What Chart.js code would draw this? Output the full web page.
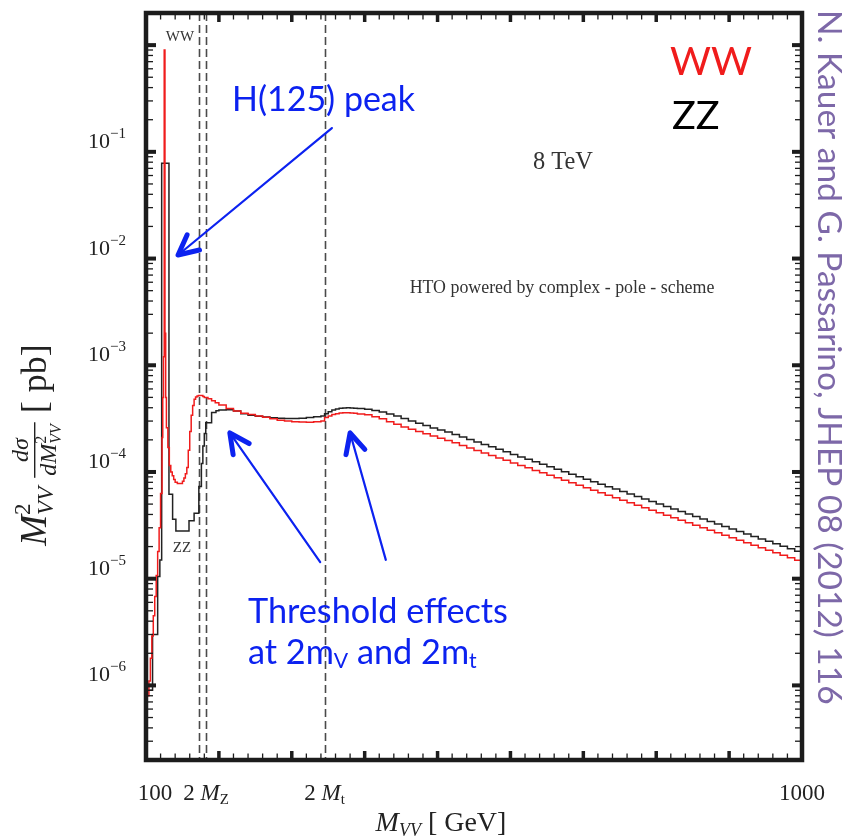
<!DOCTYPE html>
<html>
<head>
<meta charset="utf-8">
<script src="https://cdn.jsdelivr.net/npm/chart.js@4.4.1/dist/chart.umd.min.js"></script>
<style>
  html, body { margin: 0; padding: 0; background: #fff; }
</style>
</head>
<body>
<canvas id="myChart" width="850" height="836"></canvas>
<script>
// M_VV^2 dsigma/dM_VV^2 [pb], histogram bins (low edge in GeV)

// WW (red)
const massWW = [
  100, 104, 106, 108, 110, 112, 114, 116, 118, 120,
  122, 123, 124, 125, 126, 127, 128, 130, 132, 134,
  136, 138, 140, 143, 150, 152, 154, 156, 158, 160,
  162, 164, 166, 168, 170, 172, 178, 180, 185, 190,
  195, 200, 210, 220, 230, 240, 250, 260, 270, 280,
  290, 300, 310, 320, 330, 340, 345, 350, 355, 360,
  365, 370, 375, 380, 385, 390,
  400, 410, 420, 430, 440, 450, 460, 470, 480, 490,
  500, 510, 520, 530, 540, 550, 560, 570, 580, 590,
  600, 610, 620, 630, 640, 650, 660, 670, 680, 690,
  700, 710, 720, 730, 740, 750, 760, 770, 780, 790,
  800, 810, 820, 830, 840, 850, 860, 870, 880, 890,
  900, 910, 920, 930, 940, 950, 960, 970, 980, 990
];
const xsecWW = [
  8e-7, 1.1e-6, 1.8e-6, 2.9e-6, 4.5e-6, 6.8e-6, 1.07e-5, 1.8e-5, 3.0e-5, 6.3e-5,
  2.1e-4, 5.0e-4, 1.2e-3, 0.9, 2.0e-3, 5.0e-4, 2.6e-4, 1.7e-4, 1.15e-4, 1.0e-4,
  9.2e-5, 8.5e-5, 8.0e-5, 7.8e-5, 8.2e-5, 8.8e-5, 9.6e-5, 1.1e-4, 1.6e-4, 2.4e-4,
  3.4e-4, 4.2e-4, 4.8e-4, 5.05e-4, 5.15e-4, 5.2e-4, 5.1e-4, 5.0e-4, 4.85e-4, 4.65e-4,
  4.45e-4, 4.25e-4, 3.93e-4, 3.72e-4, 3.55e-4, 3.45e-4, 3.35e-4, 3.26e-4, 3.16e-4, 3.05e-4,
  3.0e-4, 2.96e-4, 2.94e-4, 2.93e-4, 2.95e-4, 3.0e-4, 3.24e-4, 3.35e-4, 3.45e-4, 3.52e-4,
  3.57e-4, 3.59e-4, 3.59e-4, 3.57e-4, 3.55e-4, 3.5e-4,
  3.44e-4, 3.30e-4, 3.15e-4, 2.96e-4, 2.80e-4, 2.64e-4, 2.51e-4, 2.40e-4, 2.28e-4, 2.17e-4,
  2.07e-4, 1.97e-4, 1.875e-4, 1.775e-4, 1.68e-4, 1.59e-4, 1.51e-4, 1.43e-4, 1.355e-4, 1.285e-4,
  1.216e-4, 1.153e-4, 1.093e-4, 1.035e-4, 9.82e-5, 9.30e-5, 8.81e-5, 8.35e-5, 7.91e-5, 7.50e-5,
  7.10e-5, 6.73e-5, 6.38e-5, 6.04e-5, 5.73e-5, 5.42e-5, 5.14e-5, 4.87e-5, 4.61e-5, 4.37e-5,
  4.14e-5, 3.93e-5, 3.72e-5, 3.52e-5, 3.34e-5, 3.16e-5, 3.00e-5, 2.84e-5, 2.69e-5, 2.55e-5,
  2.42e-5, 2.29e-5, 2.17e-5, 2.06e-5, 1.95e-5, 1.85e-5, 1.75e-5, 1.66e-5, 1.57e-5, 1.49e-5
];

// ZZ (black)
const massZZ = [
  100, 109, 116, 119, 121.5, 131.5, 136.5, 141, 159, 166,
  172.5, 176, 178, 180, 182, 190, 196,
  200, 210, 220, 230, 240, 250, 260, 270, 280, 290,
  300, 310, 320, 330, 340, 345, 350, 355, 360, 365,
  370, 375, 380, 385, 390,
  400, 410, 420, 430, 440, 450, 460, 470, 480, 490,
  500, 510, 520, 530, 540, 550, 560, 570, 580, 590,
  600, 610, 620, 630, 640, 650, 660, 670, 680, 690,
  700, 710, 720, 730, 740, 750, 760, 770, 780, 790,
  800, 810, 820, 830, 840, 850, 860, 870, 880, 890,
  900, 910, 920, 930, 940, 950, 960, 970, 980, 990
];
const xsecZZ = [
  9e-7, 3.0e-6, 1.05e-5, 1.5e-5, 0.078, 6.2e-5, 3.6e-5, 2.8e-5, 3.5e-5, 4.1e-5,
  7.3e-5, 1.2e-4, 1.75e-4, 2.3e-4, 2.9e-4, 3.6e-4, 3.75e-4,
  3.80e-4, 3.82e-4, 3.72e-4, 3.51e-4, 3.40e-4, 3.33e-4, 3.27e-4, 3.22e-4, 3.18e-4, 3.17e-4,
  3.17e-4, 3.18e-4, 3.24e-4, 3.30e-4, 3.35e-4, 3.51e-4, 3.67e-4, 3.80e-4, 3.89e-4, 3.95e-4,
  3.98e-4, 3.99e-4, 3.98e-4, 3.96e-4, 3.94e-4,
  3.88e-4, 3.77e-4, 3.64e-4, 3.50e-4, 3.34e-4, 3.17e-4, 3.01e-4, 2.86e-4, 2.72e-4, 2.59e-4,
  2.48e-4, 2.37e-4, 2.25e-4, 2.13e-4, 2.02e-4, 1.91e-4, 1.81e-4, 1.72e-4, 1.63e-4, 1.545e-4,
  1.46e-4, 1.385e-4, 1.315e-4, 1.245e-4, 1.18e-4, 1.12e-4, 1.06e-4, 1.005e-4, 9.53e-5, 9.03e-5,
  8.56e-5, 8.11e-5, 7.69e-5, 7.29e-5, 6.91e-5, 6.55e-5, 6.21e-5, 5.88e-5, 5.57e-5, 5.28e-5,
  5.00e-5, 4.74e-5, 4.50e-5, 4.26e-5, 4.04e-5, 3.83e-5, 3.63e-5, 3.44e-5, 3.26e-5, 3.09e-5,
  2.92e-5, 2.77e-5, 2.63e-5, 2.49e-5, 2.36e-5, 2.24e-5, 2.12e-5, 2.01e-5, 1.91e-5, 1.81e-5
];

// axes
const massMin = 100, massMax = 1000;
const xsecMin = 2e-7, xsecMax = 2;
const thresholds = [173, 182.4, 345];        // dashed lines
const xTickMass = [100, 182.4, 345, 1000];   // labelled x ticks
const yLabelPow = [-6, -5, -4, -3, -2, -1];

const SERIF = '"Liberation Serif", "DejaVu Serif", serif';
const SANS = 'Lato, "Open Sans", sans-serif';
const BLUE = '#0c22f0';
const INK = '#1c1c1c';

function toPoints(mass, xsec) {
  const pts = mass.map((m, i) => ({ x: m, y: xsec[i] }));
  pts.push({ x: massMax, y: xsec[xsec.length - 1] });
  return pts;
}

// draws a run of text pieces: [text, font, dy, noAdvance]
function partsWidth(ctx, parts) {
  let w = 0;
  parts.forEach(p => { if (!p[3]) { ctx.font = p[1]; w += ctx.measureText(p[0]).width; } });
  return w;
}
function richText(ctx, parts, x, y, align) {
  const w = partsWidth(ctx, parts);
  let cx = align === 'center' ? x - w / 2 : align === 'right' ? x - w : x;
  parts.forEach(p => {
    ctx.font = p[1];
    ctx.fillText(p[0], cx, y + (p[2] || 0));
    if (!p[3]) cx += ctx.measureText(p[0]).width;
  });
}
// font size so that text is targetW wide
function fitSize(ctx, text, family, targetW, style) {
  ctx.font = (style || '') + ' 100px ' + family;
  return 100 * targetW / ctx.measureText(text).width;
}

function arrow(ctx, x0, y0, x1, y1) {
  ctx.strokeStyle = BLUE;
  ctx.lineWidth = 2.2;
  ctx.lineCap = 'round';
  ctx.beginPath(); ctx.moveTo(x0, y0); ctx.lineTo(x1, y1); ctx.stroke();
  const ang = Math.atan2(y0 - y1, x0 - x1), L = 22, s = 0.46;
  ctx.lineWidth = 5;
  ctx.lineJoin = 'round';
  ctx.beginPath();
  ctx.moveTo(x1 + L * Math.cos(ang - s), y1 + L * Math.sin(ang - s));
  ctx.lineTo(x1, y1);
  ctx.lineTo(x1 + L * Math.cos(ang + s), y1 + L * Math.sin(ang + s));
  ctx.stroke();
}

// annotation anchors in data coordinates (mass, xsec)
const arrowsAt = [
  [355, 0.167, 144, 0.0108],
  [339, 1.43e-5, 215, 2.32e-4],
  [429, 1.50e-5, 380, 2.32e-4]
];

const decor = {
  id: 'decor',
  beforeDatasetsDraw(chart) {
    const { ctx, chartArea: a, scales: { x } } = chart;
    ctx.save();
    ctx.strokeStyle = '#4a4a4a';
    ctx.lineWidth = 1.6;
    ctx.setLineDash([8, 4]);
    thresholds.forEach(m => {
      const px = Math.round(x.getPixelForValue(m)) + 0.5;
      ctx.beginPath(); ctx.moveTo(px, a.top); ctx.lineTo(px, a.bottom); ctx.stroke();
    });
    ctx.restore();
  },
  afterDatasetsDraw(chart) {
    const { ctx, chartArea: a, scales: { x, y } } = chart;
    const X = m => x.getPixelForValue(m), Y = v => y.getPixelForValue(v);
    ctx.save();

    // frame + inward ticks on all sides
    ctx.strokeStyle = INK;
    ctx.lineWidth = 4.5;
    ctx.strokeRect(a.left, a.top, a.right - a.left, a.bottom - a.top);
    ctx.fillStyle = INK;
    for (let m = 120; m < massMax; m += 20) {
      const major = m % 100 === 0;
      const px = X(m), len = major ? 9 : 6.5, w = major ? 3.5 : 1.3;
      ctx.fillRect(px - w / 2, a.bottom - len, w, len);
      ctx.fillRect(px - w / 2, a.top, w, len);
    }
    for (let k = -7; k <= 0; k++) {
      for (let j = 1; j <= 9; j++) {
        const v = j * Math.pow(10, k);
        if (v < xsecMin || v > xsecMax) continue;
        const py = Y(v), major = j === 1, len = major ? 10 : 7, w = major ? 4 : 1.3;
        ctx.fillRect(a.left, py - w / 2, len, w);
        ctx.fillRect(a.right - len, py - w / 2, len, w);
      }
    }

    // tick labels
    ctx.fillStyle = '#222';
    ctx.textBaseline = 'alphabetic';
    ctx.textAlign = 'left';
    yLabelPow.forEach(p => {
      richText(ctx, [['10', '22px ' + SERIF], ['\u2212' + (-p), '15px ' + SERIF, -10]], 126, Y(Math.pow(10, p)) - 4, 'right');
    });
    const xLab = [
      [['100', '23px ' + SERIF]],
      [['2 ', '23px ' + SERIF], ['M', 'italic 23px ' + SERIF], ['Z', '15px ' + SERIF, 4]],
      [['2 ', '23px ' + SERIF], ['M', 'italic 23px ' + SERIF], ['t', '15px ' + SERIF, 4]],
      [['1000', '23px ' + SERIF]]
    ];
    xTickMass.forEach((m, i) => {
      richText(ctx, xLab[i], X(m) + (i === 0 ? 9 : 0), 800, 'center');
    });

    // axis titles
    richText(ctx, [['M', 'italic 28px ' + SERIF], ['VV', 'italic 18px ' + SERIF, 5], [' [ GeV]', '28px ' + SERIF]], 441, 831, 'center');

    ctx.save();
    ctx.translate(46, 445);
    ctx.rotate(-Math.PI / 2);
    const fBig = 'italic 37px ' + SERIF, fSub = 'italic 23px ' + SERIF, fFr = 'italic 24px ' + SERIF, fFrS = 'italic 16px ' + SERIF;
    const head = [['M', fBig], ['2', '23px ' + SERIF, -16, true], ['VV', fSub, 7]];
    const num = [['d\u03c3', fFr]];
    const den = [['dM', fFr], ['2', '16px ' + SERIF, -10, true], ['VV', fFrS, 5]];
    const tail = [['[ pb]', '36px ' + SERIF]];
    const wHead = partsWidth(ctx, head), wFr = Math.max(partsWidth(ctx, num), partsWidth(ctx, den)) + 4;
    const wTail = partsWidth(ctx, tail), gap = 9;
    let cx = -(wHead + gap + wFr + gap + wTail) / 2;
    richText(ctx, head, cx, 0, 'left');
    cx += wHead + gap;
    ctx.fillRect(cx, -12, wFr, 1.4);
    richText(ctx, num, cx + wFr / 2, -18, 'center');
    richText(ctx, den, cx + wFr / 2, 10, 'center');
    cx += wFr + gap;
    richText(ctx, tail, cx, 0, 'left');
    ctx.restore();

    // texts inside the frame
    ctx.textBaseline = 'middle';
    ctx.fillStyle = '#333';
    ctx.textAlign = 'center';
    ctx.font = '15px ' + SERIF;
    ctx.fillText('WW', X(146.6), Y(1.19));
    ctx.fillText('ZZ', X(149.4), Y(1.94e-5));
    ctx.font = fitSize(ctx, '8 TeV', SERIF, 60) + 'px ' + SERIF;
    ctx.fillText('8 TeV', X(672), Y(0.0786));
    ctx.font = fitSize(ctx, 'HTO powered by complex - pole - scheme', SERIF, 305) + 'px ' + SERIF;
    ctx.fillText('HTO powered by complex - pole - scheme', X(670.7), Y(5.3e-3));

    // big legend-like labels
    ctx.textAlign = 'left';
    const sBig = fitSize(ctx, 'WW', SANS, 82);
    ctx.font = sBig + 'px ' + SANS;
    ctx.fillStyle = '#f01c1c';
    ctx.fillText('WW', X(818.9), Y(0.695));
    ctx.fillStyle = '#000';
    ctx.fillText('ZZ', X(821.6), Y(0.2167));

    // blue annotations
    ctx.fillStyle = BLUE;
    const sH = fitSize(ctx, 'H(125) peak', SANS, 183);
    ctx.font = sH + 'px ' + SANS;
    ctx.fillText('H(125) peak', X(218), Y(0.306));
    const sT = fitSize(ctx, 'Threshold effects', SANS, 260);
    ctx.font = sT + 'px ' + SANS;
    ctx.fillText('Threshold effects', X(239.9), Y(4.87e-6));
    const fT = sT + 'px ' + SANS, fTs = (sT * 0.62) + 'px ' + SANS;
    richText(ctx, [['at 2m', fT], ['V', fTs, 8], [' and 2m', fT], ['t', fTs, 8]], X(239.9), Y(2.01e-6), 'left');
    arrowsAt.forEach(r => arrow(ctx, X(r[0]), Y(r[1]), X(r[2]), Y(r[3])));

    ctx.restore();
  },
  afterDraw(chart) {
    // citation running down the right margin
    const ctx = chart.ctx;
    const txt = 'N. Kauer and G. Passarino, JHEP 08 (2012) 116';
    ctx.save();
    ctx.translate(829, 10);
    ctx.rotate(Math.PI / 2);
    ctx.font = fitSize(ctx, txt, SANS, 695) + 'px ' + SANS;
    ctx.fillStyle = '#7d68a8';
    ctx.textAlign = 'left';
    ctx.textBaseline = 'middle';
    ctx.fillText(txt, 0, 0);
    ctx.restore();
  }
};

const ctx = document.getElementById('myChart').getContext('2d');
const myChart = new Chart(ctx, {
  type: 'line',
  data: {
    datasets: [{
      label: 'WW',
      data: toPoints(massWW, xsecWW),
      borderColor: '#f01c1c',
      borderWidth: 1.5,
      stepped: 'before',
      pointRadius: 0
    }, {
      label: 'ZZ',
      data: toPoints(massZZ, xsecZZ),
      borderColor: '#222222',
      borderWidth: 1.5,
      stepped: 'before',
      pointRadius: 0
    }]
  },
  options: {
    responsive: false,
    animation: false,
    devicePixelRatio: 1,
    layout: { padding: { top: 13, right: 48, left: 0, bottom: 0 } },
    plugins: { legend: { display: false }, tooltip: { enabled: false } },
    scales: {
      x: {
        type: 'linear',
        min: massMin,
        max: massMax,
        grid: { display: false },
        border: { display: false },
        ticks: { display: false },
        afterFit: scale => { scale.height = 76; }
      },
      y: {
        type: 'logarithmic',
        min: xsecMin,
        max: xsecMax,
        grid: { display: false },
        border: { display: false },
        ticks: { display: false },
        afterFit: scale => { scale.width = 146; }
      }
    }
  },
  plugins: [decor]
});
</script>
</body>
</html>
